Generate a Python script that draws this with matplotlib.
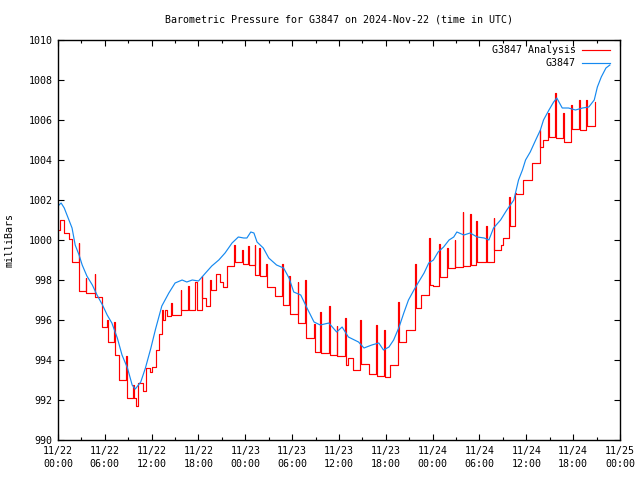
import pandas as pd
import matplotlib
matplotlib.use('Agg')
import matplotlib.pyplot as plt
import matplotlib.dates as mdates

# Datos (horas desde 2024-11-22 00:00 UTC, presion en mb)
station = 'G3847'
start_time = '2024-11-22 00:00'

obs_hours = [0.0, 0.4, 0.8, 1.2, 1.8, 2.2, 2.7, 3.1, 3.7, 4.4, 5.0, 5.7, 6.3, 6.9, 7.6, 8.2,
             8.9, 9.5, 9.9, 10.6, 11.2, 11.9, 12.5, 13.3, 14.2, 15.0, 15.9, 16.5, 17.2, 18.0,
             18.9, 19.7, 20.6, 21.4, 22.3, 23.1, 23.8, 24.2, 24.7, 25.1, 25.5, 26.3, 27.0,
             28.0, 28.9, 29.6, 30.2, 31.1, 31.9, 32.8, 33.6, 34.7, 35.7, 36.4, 37.2, 38.5,
             39.2, 40.2, 41.1, 41.7, 42.4, 43.0, 43.7, 44.3, 44.9, 45.6, 46.2, 46.9, 47.5,
             48.1, 48.7, 49.4, 50.1, 50.7, 51.1, 52.0, 52.8, 53.7, 54.6, 55.2, 55.8, 56.7,
             57.5, 58.4, 59.0, 59.5, 59.9, 60.5, 61.2, 61.8, 62.2, 62.9, 63.5, 63.9, 64.6,
             65.4, 66.3, 67.2, 68.0, 68.7, 69.1, 69.6, 70.2, 70.7]
obs_mb = [1001.7, 1001.85, 1001.6, 1001.2, 1000.6, 999.75, 999.25, 998.75, 998.2, 997.75,
          997.25, 996.75, 996.25, 995.85, 995.1, 994.25, 993.6, 992.75, 992.55, 992.9, 993.6,
          994.6, 995.55, 996.7, 997.35, 997.85, 998.0, 997.9, 998.0, 997.95, 998.35, 998.7,
          999.0, 999.35, 999.85, 1000.15, 1000.1, 1000.1, 1000.4, 1000.35, 999.9, 999.6,
          999.1, 998.75, 998.6, 998.1, 997.4, 997.25, 996.6, 995.9, 995.75, 995.85, 995.4,
          995.65, 995.15, 994.9, 994.6, 994.75, 994.85, 994.5, 994.65, 995.0, 995.65, 996.35,
          997.0, 997.5, 997.9, 998.35, 998.85, 999.0, 999.4, 999.65, 1000.0, 1000.15, 1000.4,
          1000.25, 1000.35, 1000.15, 1000.1, 1000.0, 1000.6, 1001.0, 1001.5, 1002.0, 1003.0,
          1003.5, 1004.0, 1004.4, 1005.0, 1005.5, 1006.0, 1006.5, 1006.9, 1007.1, 1006.6,
          1006.6, 1006.5, 1006.6, 1006.65, 1007.0, 1007.65, 1008.15, 1008.6, 1008.75]

ana_hours = [0.0, 0.25, 0.75, 1.4, 1.85, 2.65, 2.75, 3.55, 3.65, 4.7, 4.8, 5.6, 5.7, 6.3, 6.4,
             7.2, 7.3, 7.8, 8.75, 8.85, 9.6, 9.7, 10.0, 10.2, 10.9, 11.3, 11.8, 12.1, 12.5,
             13.0, 13.3, 13.45, 13.7, 14.0, 14.5, 14.6, 15.7, 15.8, 16.7, 16.8, 17.6, 17.75,
             18.4, 18.5, 18.9, 19.5, 19.6, 20.3, 20.8, 21.2, 21.7, 22.55, 22.65, 23.6, 23.7,
             24.4, 24.5, 25.2, 25.3, 25.8, 25.9, 26.7, 26.8, 27.85, 28.7, 28.8, 29.6, 29.7,
             30.7, 30.8, 31.7, 31.8, 32.8, 32.9, 33.6, 33.7, 34.7, 34.8, 35.7, 35.8, 36.8,
             36.9, 37.2, 37.8, 38.7, 38.8, 39.8, 40.8, 40.9, 41.75, 41.85, 42.5, 43.6, 43.7,
             44.6, 45.75, 45.85, 46.5, 47.55, 47.65, 48.1, 48.8, 48.9, 49.85, 49.95, 50.8,
             50.9, 51.85, 51.95, 52.8, 52.9, 53.6, 53.7, 54.8, 54.9, 55.8, 55.9, 56.8, 57.0,
             57.8, 57.9, 58.6, 58.7, 59.6, 60.7, 61.7, 61.8, 62.1, 62.8, 62.9, 63.7, 63.8,
             64.7, 64.8, 65.7, 65.8, 66.8, 66.9, 67.7, 67.8, 68.8]
ana_mb = [1000.5, 1001.0, 1000.35, 1000.05, 998.9, 999.85, 997.45, 998.1, 997.35, 998.3, 997.15,
          996.9, 995.65, 996.0, 994.9, 995.9, 994.25, 993.0, 994.2, 992.1, 992.75, 992.1, 991.7,
          992.85, 992.45, 993.6, 993.4, 993.65, 994.5, 995.3, 996.5, 996.0, 996.5, 996.2,
          996.85, 996.25, 997.5, 996.5, 997.7, 996.5, 997.9, 996.5, 998.2, 997.1, 996.7, 998.0,
          997.5, 998.3, 997.9, 997.65, 998.7, 999.75, 998.9, 999.5, 998.8, 999.7, 998.75,
          999.75, 998.25, 999.6, 998.2, 998.8, 997.65, 997.2, 998.8, 996.75, 998.2, 996.3,
          997.9, 995.85, 998.0, 995.1, 995.8, 994.4, 996.4, 994.35, 996.7, 994.25, 995.7,
          994.2, 996.1, 993.75, 994.1, 993.5, 996.0, 993.8, 993.3, 995.75, 993.2, 995.5, 993.15,
          993.75, 996.9, 994.9, 995.5, 998.8, 996.6, 997.25, 1000.1, 997.75, 997.7, 999.8,
          998.15, 999.6, 998.6, 1000.0, 998.65, 1001.4, 998.7, 1001.3, 998.75, 1000.95, 998.9,
          1000.7, 998.9, 1001.1, 999.5, 999.75, 1000.1, 1002.15, 1000.7, 1002.35, 1002.3,
          1003.0, 1003.85, 1005.5, 1004.65, 1005.0, 1006.35, 1005.15, 1007.35, 1005.1, 1006.35,
          1004.9, 1006.75, 1005.55, 1007.0, 1005.5, 1007.0, 1005.7, 1006.9]

y_ticks = [990, 992, 994, 996, 998, 1000, 1002, 1004, 1006, 1008, 1010]

base = pd.Timestamp(start_time)
obs_t = base + pd.to_timedelta(obs_hours, unit='h')
ana_t = base + pd.to_timedelta(ana_hours, unit='h')

plt.rcParams['font.family'] = 'DejaVu Sans Mono'
plt.rcParams['font.size'] = 7.2

fig = plt.figure(figsize=(6.4, 4.8), dpi=100)
ax = fig.add_axes([58 / 640, 40 / 480, 562 / 640, 400 / 480])

ax.plot(ana_t, ana_mb, color='#ff0000', lw=0.85, drawstyle='steps-post')
ax.plot(obs_t, obs_mb, color='#1589f0', lw=0.85)

ax.set_xlim(base, base + pd.Timedelta(hours=72))
ax.set_ylim(990, 1010)
ax.set_yticks(y_ticks)
ax.xaxis.set_major_locator(mdates.HourLocator(byhour=[0, 6, 12, 18]))
ax.xaxis.set_minor_locator(mdates.HourLocator(byhour=[3, 9, 15, 21]))
ax.xaxis.set_major_formatter(mdates.DateFormatter('%m/%d\n%H:%M'))
ax.tick_params(which='both', direction='in', top=True, right=True, width=0.8)
ax.tick_params(which='major', length=4.5, pad=4)
ax.tick_params(which='minor', length=2.5)
for lab in ax.get_xticklabels():
    lab.set_linespacing(1.45)
for sp in ax.spines.values():
    sp.set_linewidth(1.0)

# leyenda estilo gnuplot (texto a la derecha, alineado a la derecha)
ax.text(0.921, 0.975, station + ' Analysis', transform=ax.transAxes, ha='right', va='center')
ax.plot([0.932, 0.982], [0.975, 0.975], transform=ax.transAxes, color='#ff0000', lw=0.85)
ax.text(0.921, 0.9425, station, transform=ax.transAxes, ha='right', va='center')
ax.plot([0.932, 0.982], [0.9425, 0.9425], transform=ax.transAxes, color='#1589f0', lw=0.85)

fig.text(339 / 640, 1 - 20 / 480, 'Barometric Pressure for ' + station + ' on 2024-Nov-22 (time in UTC)',
         ha='center', va='center')
fig.text(10 / 640, 0.5, 'milliBars', rotation=90, ha='center', va='center')

plt.savefig('out.png', dpi=100)
